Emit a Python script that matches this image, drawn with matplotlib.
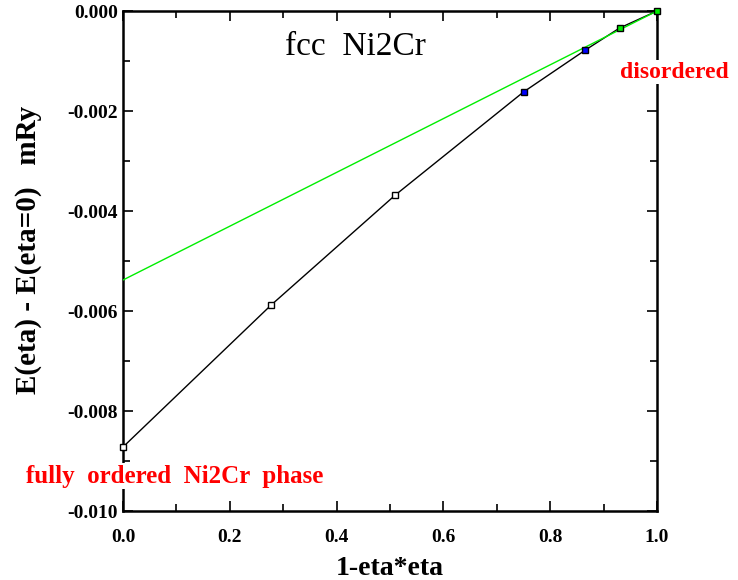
import matplotlib
matplotlib.use("Agg")
import matplotlib.pyplot as plt
from matplotlib.ticker import MultipleLocator, FormatStrFormatter

x_vals = [0.0, 0.2775, 0.51, 0.75, 0.866, 0.93, 1.0]
y_vals = [-0.00872, -0.00588, -0.00368, -0.00162, -0.00078, -0.00034, 0.0]
marker_face = ["white", "white", "white", "blue", "blue", "#00ee00", "#00ee00"]
green_x = [0.0, 1.0]
green_y = [-0.00538, 0.0]

plt.rcParams['font.family'] = ['Liberation Serif', 'DejaVu Serif']

fig = plt.figure(figsize=(7.38, 5.80), dpi=100)
ax = fig.add_axes([123/738, 1-511/580, (657-123)/738, 500/580])

ax.plot(x_vals, y_vals, color='black', lw=1.0, zorder=2)
ax.plot(green_x, green_y, color='#00ee00', lw=1.0, zorder=3)
for xv, yv, fc in zip(x_vals, y_vals, marker_face):
    ax.plot([xv], [yv], marker='s', ms=5, mfc=fc, mec='black', mew=1.0,
            linestyle='none', zorder=4, clip_on=False)

ax.set_xlim(0, 1.0)
ax.set_ylim(-0.010, 0.0)
ax.xaxis.set_major_locator(MultipleLocator(0.2))
ax.xaxis.set_minor_locator(MultipleLocator(0.1))
ax.yaxis.set_major_locator(MultipleLocator(0.002))
ax.yaxis.set_minor_locator(MultipleLocator(0.001))
ax.xaxis.set_major_formatter(FormatStrFormatter('%.1f'))
ax.yaxis.set_major_formatter(FormatStrFormatter('%.3f'))
ax.tick_params(which='both', direction='in', top=True, right=True, width=1.2)
ax.tick_params(which='major', length=7)
ax.tick_params(which='minor', length=5)
ax.tick_params(axis='x', pad=13)
for lab in ax.get_xticklabels() + ax.get_yticklabels():
    lab.set_fontweight('bold')
    lab.set_fontsize(14)
for s in ax.spines.values():
    s.set_linewidth(1.8)

ax.set_xlabel('1-eta*eta', fontsize=20, fontweight='bold', labelpad=7)
ax.set_ylabel('E(eta) - E(eta=0)   mRy', fontsize=21, fontweight='bold')
ax.yaxis.set_label_coords(-0.152, (511-250)/500)

fig.text(355/738, 1-47/580, 'fcc  Ni2Cr', fontsize=24, ha='center', va='center')
fig.text(674/738, 1-72/580, 'disordered', fontsize=17, fontweight='bold',
         color='red', ha='center', va='center',
         bbox=dict(facecolor='white', edgecolor='none', pad=1))
fig.text(175/738, 1-476/580, 'fully  ordered  Ni2Cr  phase', fontsize=18, fontweight='bold',
         color='red', ha='center', va='center',
         bbox=dict(facecolor='white', edgecolor='none', pad=1))

fig.savefig('out.png', dpi=100)
